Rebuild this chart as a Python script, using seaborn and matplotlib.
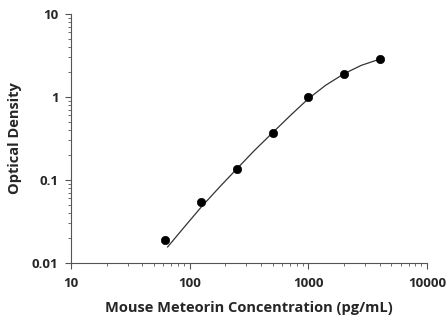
import seaborn as sns
import matplotlib.pyplot as plt
import pandas as pd

# standard points
conc = [62.5, 125, 250, 500, 1000, 2000, 4000]
od = [0.019, 0.054, 0.137, 0.37, 0.99, 1.9, 2.85]

# fitted curve
curve_x = [65, 90, 125, 180, 250, 350, 500, 700, 1000, 1400, 2000, 2800, 4000]
curve_y = [0.0155, 0.027, 0.047, 0.083, 0.136, 0.225, 0.37, 0.59, 0.95, 1.38, 1.9, 2.4, 2.85]

x_ticks = [10, 100, 1000, 10000]
x_labels = ["10", "100", "1000", "10000"]
y_ticks = [0.01, 0.1, 1, 10]
y_labels = ["0.01", "0.1", "1", "10"]

sns.set_style("ticks")
plt.rcParams["font.family"] = ["Open Sans", "DejaVu Sans"]

fig = plt.figure(figsize=(4.47, 3.16), dpi=100)
ax = fig.add_axes([0.159, 0.168, 0.796, 0.788])

pts = pd.DataFrame({"x": conc, "y": od})
fit = pd.DataFrame({"x": curve_x, "y": curve_y})
sns.lineplot(data=fit, x="x", y="y", color="#333333", linewidth=0.9, ax=ax)
sns.scatterplot(data=pts, x="x", y="y", color="black", s=36, edgecolor="black", zorder=3, ax=ax)

ax.set_xscale("log")
ax.set_yscale("log")
ax.set_xlim(10, 10000)
ax.set_ylim(0.01, 10)
ax.set_xticks(x_ticks)
ax.set_xticklabels(x_labels)
ax.set_yticks(y_ticks)
ax.set_yticklabels(y_labels)

for lab in ax.get_xticklabels() + ax.get_yticklabels():
    lab.set_fontweight("bold")
    lab.set_fontsize(9.5)
ax.tick_params(which="major", length=4, width=0.8, color="#555555")
ax.tick_params(axis="x", which="major", pad=6)
ax.tick_params(axis="y", which="major", pad=5)
ax.tick_params(which="minor", length=2.5, width=0.6, color="#555555")

ax.set_xlabel("Mouse Meteorin Concentration (pg/mL)", fontsize=10.5, fontweight="bold", labelpad=8)
ax.set_ylabel("Optical Density", fontsize=10.5, fontweight="bold", labelpad=7)

sns.despine(ax=ax)
for s in ["left", "bottom"]:
    ax.spines[s].set_color("#555555")
    ax.spines[s].set_linewidth(0.8)

fig.savefig("out.png", dpi=100)
